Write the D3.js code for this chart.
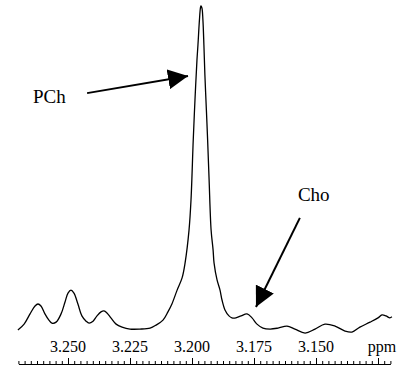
<!DOCTYPE html>
<html>
<head>
<meta charset="utf-8">
<script src="https://cdn.jsdelivr.net/npm/d3@7"></script>
<style>
html,body{margin:0;padding:0;background:#fff;}
svg{display:block;}
text{font-family:"Liberation Serif","Times New Roman",serif;fill:#000;}
</style>
</head>
<body>
<div id="chart"></div>
<script>
// chemical shift (ppm) of each sampled point
const ppm = [3.2702,3.2677,3.2653,3.2633,3.2621,3.2609,3.2593,3.2577,3.2565,3.2548,
  3.2528,3.2512,3.2500,3.2488,3.2476,3.2460,3.2444,3.2427,3.2415,3.2399,
  3.2383,3.2367,3.2355,3.2343,3.2327,3.2306,3.2282,3.2250,3.2210,3.2169,
  3.2145,3.2117,3.2097,3.2081,3.2060,3.2040,3.2028,3.2012,3.2004,3.1995,
  3.1988,3.1980,3.1976,3.1970,3.1966,3.1964,3.1960,3.1956,3.1952,3.1948,
  3.1942,3.1937,3.1931,3.1923,3.1915,3.1911,3.1899,3.1887,3.1879,3.1867,
  3.1851,3.1839,3.1823,3.1802,3.1778,3.1758,3.1738,3.1714,3.1685,3.1653,
  3.1617,3.1585,3.1544,3.1504,3.1464,3.1423,3.1383,3.1355,3.1323,3.1282,
  3.1250,3.1234,3.1218,3.1202,3.1194];
// signal intensity (arbitrary units, main peak = 100)
const intensity = [1.8,3.6,6.7,9.1,9.7,9.1,6.7,4.8,3.9,4.2,
  6.7,10.3,13.0,13.9,13.0,9.7,6.1,4.5,3.9,4.5,
  6.1,7.3,7.6,7.0,5.5,3.6,2.7,2.1,2.1,2.4,
  3.3,4.8,7.3,9.7,13.9,17.6,22.1,32.1,41.2,59.4,
  71.5,83.6,88.2,95.8,99.4,100,99.4,95.8,88.2,79.1,
  68.5,59.4,47.3,32.1,26.1,22.1,17.0,13.9,10.9,7.9,
  6.1,5.5,5.5,6.1,6.7,5.5,3.6,2.4,2.1,2.4,
  3.0,2.1,0.9,2.1,3.6,3.0,1.5,1.2,2.7,4.2,
  5.5,6.4,6.1,5.5,5.8];
const tickLabels = ["3.250","3.225","3.200","3.175","3.150"];
const tickValues = [3.250,3.225,3.200,3.175,3.150];
const unitLabel = "ppm";
const annotations = [
  {label:"PCh", textPpm:3.2641, textInt:70.6, fromPpm:3.2423, fromInt:73.6, toPpm:3.2016, toInt:78.8},
  {label:"Cho", textPpm:3.1573, textInt:40.9, fromPpm:3.1565, fromInt:35.8, toPpm:3.1742, toInt:8.8}
];

const W = 405, H = 369;
const x = d3.scaleLinear().domain([3.27, 3.12]).range([18.4, 390.4]);
const y = d3.scaleLinear().domain([0, 100]).range([336, 6]);
const axisY = 364;

const svg = d3.select("#chart").append("svg").attr("width", W).attr("height", H);

// arrowhead marker
svg.append("defs").append("marker")
  .attr("id","ah").attr("viewBox","0 0 20 20").attr("refX",20).attr("refY",10)
  .attr("markerWidth",20).attr("markerHeight",20).attr("markerUnits","userSpaceOnUse")
  .attr("orient","auto")
  .append("path").attr("d","M0,0 L20,10 L0,20 Z").attr("fill","#000");

// spectrum
const pts = ppm.map((p,i)=>[p,intensity[i]]);
svg.append("path")
  .datum(pts)
  .attr("fill","none").attr("stroke","#000").attr("stroke-width",1.3)
  .attr("stroke-linejoin","round")
  .attr("d", d3.line().x(d=>x(d[0])).y(d=>y(d[1])).curve(d3.curveCatmullRom.alpha(0.5)));

// axis: minor ticks every 0.0025, major every 0.025
const minorTicks = d3.range(0, 61).map(i => +(3.27 - i*0.0025).toFixed(4));
const majorSet = new Set([3.250,3.225,3.200,3.175,3.150,3.125].map(v=>v.toFixed(4)));
const g = svg.append("g").attr("transform",`translate(0,${axisY})`);
const axis = d3.axisTop(x).tickValues(minorTicks).tickSizeOuter(0).tickFormat("");
g.call(axis);
g.select(".domain").attr("stroke","#000").attr("stroke-width",1.2);
g.selectAll(".tick line")
  .attr("stroke","#000").attr("stroke-width",1)
  .attr("y2", d => majorSet.has(d.toFixed(4)) ? -6 : -3);

// tick labels
svg.append("g").selectAll("text").data(tickValues).join("text")
  .attr("x", d=>x(d)).attr("y", 352).attr("text-anchor","middle")
  .attr("font-size", 16).text((d,i)=>tickLabels[i]);
svg.append("text").attr("x", 382).attr("y", 352).attr("text-anchor","middle")
  .attr("font-size", 16).text(unitLabel);

// annotations
annotations.forEach(a=>{
  svg.append("text").attr("x", x(a.textPpm)).attr("y", y(a.textInt))
    .attr("font-size", 19).text(a.label);
  svg.append("line")
    .attr("x1", x(a.fromPpm)).attr("y1", y(a.fromInt))
    .attr("x2", x(a.toPpm)).attr("y2", y(a.toInt))
    .attr("stroke","#000").attr("stroke-width",2)
    .attr("marker-end","url(#ah)");
});
</script>
</body>
</html>
